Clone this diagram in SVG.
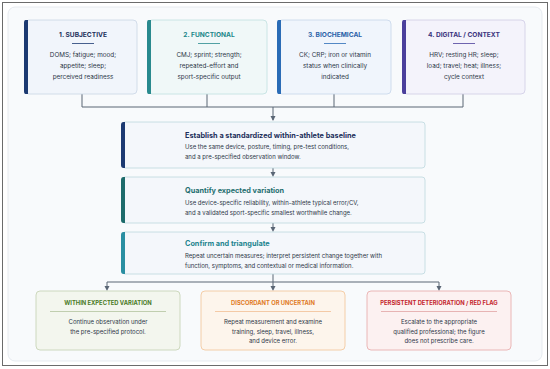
<svg xmlns="http://www.w3.org/2000/svg" width="550" height="369" viewBox="0 0 550 369">
<defs>
<style>
text{font-family:Inter,"Liberation Sans",sans-serif}
.tt{font-size:6.6px;font-weight:700;text-anchor:middle}
.tb{font-size:6.35px;fill:#2d3748;text-anchor:middle}
.mt{font-size:7.3px;font-weight:700}
.mb{font-size:6px;fill:#2d3748}
.bt{font-size:5.8px;font-weight:700;text-anchor:middle}
.bb{font-size:6px;fill:#2d3748;text-anchor:middle}
.conn{fill:none;stroke:#5a6675;stroke-width:1}
.mid{fill:#f4f7fb;stroke:#bcd8de;stroke-width:0.8}
</style>
</defs>
<rect x="0" y="0" width="550" height="369" fill="#ffffff"/>
<rect x="2.5" y="2.5" width="545" height="363" fill="#ffffff" stroke="#6b6b6b" stroke-width="1"/>
<rect x="8" y="7" width="534" height="354" rx="7" fill="#f8fafc" stroke="#e1e6ec" stroke-width="0.8"/>

<g id="connectors">
<path class="conn" d="M82,94 V107 M207,94 V107 M334,94 V107 M463,94 V107 M82,107 H463"/>
<path class="conn" d="M273,107 V120"/>
<path d="M270.5,116 L275.5,116 L273,121 Z" fill="#5a6675"/>
<path class="conn" d="M273,168 V175"/>
<path d="M270.5,172 L275.5,172 L273,177 Z" fill="#5a6675"/>
<path class="conn" d="M273,223 V230"/>
<path d="M270.5,227 L275.5,227 L273,232 Z" fill="#5a6675"/>
<path class="conn" d="M273,274 V282 M107,282 H439 M107,282 V289 M273,282 V289 M439,282 V289"/>
<path d="M104.5,286 L109.5,286 L107,291 Z M270.5,286 L275.5,286 L273,291 Z M436.5,286 L441.5,286 L439,291 Z" fill="#5a6675"/>
</g>

<g id="node-subjective">
<rect x="25" y="20" width="112" height="74" rx="4" fill="#f1f5fb" stroke="#c9d5e4" stroke-width="0.8"/>
<path d="M28,20 H25.5 Q24,20 24,23 V91 Q24,94 25.5,94 H28 Z" fill="#1c3a72"/>
<text class="tt" x="83" y="37" fill="#1c2f5a">1. SUBJECTIVE</text>
<line x1="72" y1="43.5" x2="94" y2="43.5" stroke="#1c3a72" stroke-width="0.8"/>
<text class="tb" x="83" y="57">DOMS; fatigue; mood;</text>
<text class="tb" x="83" y="68">appetite; sleep;</text>
<text class="tb" x="83" y="79">perceived readiness</text>
</g>

<g id="node-functional">
<rect x="148" y="20" width="119" height="74" rx="4" fill="#f0f8f8" stroke="#bfdfe0" stroke-width="0.8"/>
<path d="M151,20 H148.5 Q147,20 147,23 V91 Q147,94 148.5,94 H151 Z" fill="#2a8a8e"/>
<text class="tt" x="209" y="37" fill="#22878a">2. FUNCTIONAL</text>
<line x1="198" y1="43.5" x2="220" y2="43.5" stroke="#2a8a8e" stroke-width="0.8"/>
<text class="tb" x="209" y="57">CMJ; sprint; strength;</text>
<text class="tb" x="209" y="68">repeated-effort and</text>
<text class="tb" x="209" y="79">sport-specific output</text>
</g>

<g id="node-biochemical">
<rect x="278" y="20" width="113" height="74" rx="4" fill="#f0f5fc" stroke="#c5d6ea" stroke-width="0.8"/>
<path d="M281,20 H278.5 Q277,20 277,23 V91 Q277,94 278.5,94 H281 Z" fill="#2b6cb6"/>
<text class="tt" x="335" y="37" fill="#2a62a8">3. BIOCHEMICAL</text>
<line x1="324" y1="43.5" x2="346" y2="43.5" stroke="#2b6cb6" stroke-width="0.8"/>
<text class="tb" x="335" y="57">CK; CRP; iron or vitamin</text>
<text class="tb" x="335" y="68">status when clinically</text>
<text class="tb" x="335" y="79">indicated</text>
</g>

<g id="node-digital">
<rect x="403" y="20" width="122" height="74" rx="4" fill="#f4f3fb" stroke="#cfcce4" stroke-width="0.8"/>
<path d="M406,20 H403.5 Q402,20 402,23 V91 Q402,94 403.5,94 H406 Z" fill="#4b3f9c"/>
<text class="tt" x="464" y="37" fill="#3b337e">4. DIGITAL / CONTEXT</text>
<line x1="453" y1="43.5" x2="475" y2="43.5" stroke="#4b3f9c" stroke-width="0.8"/>
<text class="tb" x="464" y="57">HRV; resting HR; sleep;</text>
<text class="tb" x="464" y="68">load; travel; heat; illness;</text>
<text class="tb" x="464" y="79">cycle context</text>
</g>

<g id="node-baseline">
<rect class="mid" x="122" y="122" width="303" height="46" rx="3"/>
<path d="M125,122 H123.5 Q121,122 121,125 V165 Q121,168 123.5,168 H125 Z" fill="#1c3a72"/>
<text class="mt" x="185" y="138" fill="#1c2f5a">Establish a standardized within-athlete baseline</text>
<text class="mb" x="185" y="148.5">Use the same device, posture, timing, pre-test conditions,</text>
<text class="mb" x="185" y="159">and a pre-specified observation window.</text>
</g>

<g id="node-variation">
<rect class="mid" x="122" y="177" width="303" height="46" rx="3"/>
<path d="M125,177 H123.5 Q121,177 121,180 V220 Q121,223 123.5,223 H125 Z" fill="#1d6b6b"/>
<text class="mt" x="185" y="193" fill="#1f6f70">Quantify expected variation</text>
<text class="mb" x="185" y="205">Use device-specific reliability, within-athlete typical error/CV,</text>
<text class="mb" x="185" y="215">and a validated sport-specific smallest worthwhile change.</text>
</g>

<g id="node-confirm">
<rect class="mid" x="122" y="232" width="303" height="42" rx="3"/>
<path d="M125,232 H123.5 Q121,232 121,235 V271 Q121,274 123.5,274 H125 Z" fill="#2a8fa2"/>
<text class="mt" x="185" y="246" fill="#23848f">Confirm and triangulate</text>
<text class="mb" x="185" y="258">Repeat uncertain measures; interpret persistent change together with</text>
<text class="mb" x="185" y="268">function, symptoms, and contextual or medical information.</text>
</g>

<g id="node-within">
<rect x="36" y="291" width="144" height="59" rx="4" fill="#f3f6ee" stroke="#c8d5b8" stroke-width="0.9"/>
<text class="bt" x="108" y="305" fill="#4a7a26">WITHIN EXPECTED VARIATION</text>
<line x1="50" y1="311.5" x2="166" y2="311.5" stroke="#a9bd94" stroke-width="0.7"/>
<text class="bb" x="108" y="324">Continue observation under</text>
<text class="bb" x="108" y="333.5">the pre-specified protocol.</text>
</g>

<g id="node-discordant">
<rect x="201" y="291" width="144" height="59" rx="4" fill="#fdf5ec" stroke="#f3c9a0" stroke-width="0.9"/>
<text class="bt" x="273" y="305" fill="#e07a1f">DISCORDANT OR UNCERTAIN</text>
<line x1="215" y1="311.5" x2="331" y2="311.5" stroke="#efb888" stroke-width="0.7"/>
<text class="bb" x="273" y="324">Repeat measurement and examine</text>
<text class="bb" x="273" y="333.5">training, sleep, travel, illness,</text>
<text class="bb" x="273" y="343">and device error.</text>
</g>

<g id="node-persistent">
<rect x="367" y="291" width="144" height="59" rx="4" fill="#fcf1f1" stroke="#e9b0b0" stroke-width="0.9"/>
<text class="bt" x="439" y="305" fill="#c4262e">PERSISTENT DETERIORATION / RED FLAG</text>
<line x1="381" y1="311.5" x2="497" y2="311.5" stroke="#de9a9a" stroke-width="0.7"/>
<text class="bb" x="439" y="324">Escalate to the appropriate</text>
<text class="bb" x="439" y="333.5">qualified professional; the figure</text>
<text class="bb" x="439" y="343">does not prescribe care.</text>
</g>
</svg>
